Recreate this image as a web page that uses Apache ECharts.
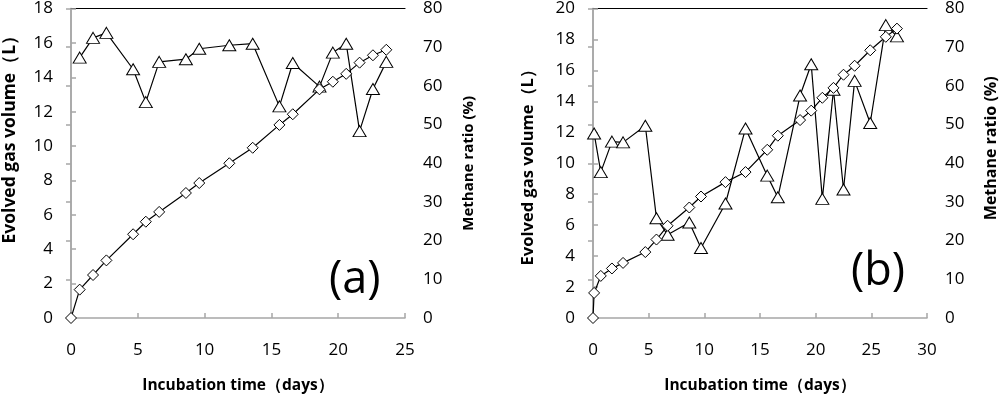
<!DOCTYPE html>
<html>
<head>
<meta charset="utf-8">
<script src="https://cdn.jsdelivr.net/npm/echarts@6/dist/echarts.min.js"></script>
<style>
html,body{margin:0;padding:0;background:#fff;}
#chart{width:1000px;height:399px;}
</style>
</head>
<body>
<div id="chart"></div>
<script>
// Panel (a)
const daysA = [0, 0.65, 1.65, 2.65, 4.65, 5.6, 6.6, 8.6, 9.6, 11.85, 13.6, 15.6, 16.6, 18.6, 19.6, 20.6, 21.6, 22.6, 23.6];
const gasA = [0, 1.65, 2.5, 3.35, 4.87, 5.6, 6.17, 7.27, 7.85, 9.0, 9.9, 11.23, 11.85, 13.3, 13.74, 14.2, 14.85, 15.28, 15.6];
const methaneA = [null, 67.3, 72.4, 73.7, 64.3, 55.8, 66.2, 66.9, 69.6, 70.5, 70.9, 54.7, 65.9, 59.8, 68.6, 70.9, 48.3, 59.2, 66.2];
// Panel (b)
const daysB = [0, 0.1, 0.7, 1.7, 2.7, 4.7, 5.7, 6.7, 8.65, 9.7, 11.9, 13.7, 15.65, 16.6, 18.6, 19.6, 20.6, 21.6, 22.5, 23.5, 24.9, 26.3, 27.3];
const gasB = [0, 1.62, 2.72, 3.2, 3.56, 4.26, 5.07, 5.96, 7.14, 7.85, 8.78, 9.43, 10.87, 11.78, 12.79, 13.4, 14.23, 14.87, 15.72, 16.3, 17.3, 18.17, 18.7];
const methaneB = [null, 47.7, 37.7, 45.6, 45.4, 49.7, 25.8, 21.5, 24.7, 18.1, 29.6, 49.0, 36.8, 31.2, 57.5, 65.6, 30.8, 59.0, 33.2, 61.3, 50.4, 75.7, 72.8];

const xTitle = 'Incubation time（days）';
const yLeftTitle = 'Evolved gas volume（L）';
const yRightTitle = 'Methane ratio (%)';

function pairs(xs, ys) {
  return xs.map((x, i) => [x, ys[i]]);
}

const FONT = '"Open Sans", sans-serif';
const AX = '#a6a6a6';
const tickFont = { color: '#000', fontSize: 17, fontFamily: FONT };
function nameFont(size, padding) {
  return { color: '#000', fontSize: size, fontWeight: 'bold', fontFamily: FONT, padding: padding || 0 };
}

function xAxes(gridIndex, max) {
  return [
    {
      type: 'value', gridIndex, min: 0, max, interval: 5,
      name: xTitle, nameLocation: 'middle', nameGap: 60, nameTextStyle: nameFont(15.5),
      axisLine: { show: true, lineStyle: { color: AX, width: 1.5 } },
      axisTick: { show: true, inside: true, length: 5, lineStyle: { color: AX, width: 1.5 } },
      axisLabel: Object.assign({ margin: 24 }, tickFont),
      splitLine: { show: false }
    },
    {
      type: 'value', gridIndex, min: 0, max, position: 'top',
      axisLine: { show: true, onZero: false, lineStyle: { color: '#000', width: 1.2 } },
      axisTick: { show: false }, axisLabel: { show: false }, splitLine: { show: false }
    }
  ];
}

function yAxes(gridIndex, leftMax, leftGap, rightGap, leftStyle, rightStyle) {
  return [
    {
      type: 'value', gridIndex, min: 0, max: leftMax, interval: 2, position: 'left',
      name: yLeftTitle, nameLocation: 'middle', nameGap: leftGap, nameRotate: 90, nameTextStyle: leftStyle,
      axisLine: { show: true, lineStyle: { color: AX, width: 1.5 } },
      axisTick: { show: true, inside: true, length: 5, lineStyle: { color: AX, width: 1.5 } },
      axisLabel: Object.assign({ margin: 18 }, tickFont),
      splitLine: { show: false }
    },
    {
      type: 'value', gridIndex, min: 0, max: 80, interval: 10, position: 'right',
      name: yRightTitle, nameLocation: 'middle', nameGap: rightGap, nameRotate: 90, nameTextStyle: rightStyle,
      axisLine: { show: true, lineStyle: { color: AX, width: 1.5 } },
      axisTick: { show: true, inside: true, length: 5, lineStyle: { color: AX, width: 1.5 } },
      axisLabel: Object.assign({ margin: 18 }, tickFont),
      splitLine: { show: false }
    }
  ];
}

const lineStyle = { color: '#000', width: 1.2 };
const itemStyle = { color: '#fff', borderColor: '#000', borderWidth: 1 };

function gasSeries(xi, yi, data) {
  return {
    type: 'line', xAxisIndex: xi, yAxisIndex: yi, data,
    symbol: 'diamond', symbolSize: [11, 11], showAllSymbol: true,
    lineStyle, itemStyle, animation: false, z: 3
  };
}
function methSeries(xi, yi, data) {
  return {
    type: 'line', xAxisIndex: xi, yAxisIndex: yi, data, connectNulls: false,
    symbol: 'triangle', symbolSize: [13, 11], showAllSymbol: true,
    lineStyle, itemStyle, animation: false, z: 2
  };
}

const chart = echarts.init(document.getElementById('chart'), null, { renderer: 'canvas' });
chart.setOption({
  backgroundColor: '#fff',
  animation: false,
  grid: [
    { left: 71, right: 595, top: 7, bottom: 79 },
    { left: 593, right: 73, top: 7, bottom: 79 }
  ],
  xAxis: [...xAxes(0, 25), ...xAxes(1, 30)],
  yAxis: [
    ...yAxes(0, 18, 52, 56, nameFont(17.5, [0, 0, 0, 56]), nameFont(15)),
    ...yAxes(1, 20, 56, 56, nameFont(16.5), nameFont(16, [0, 0, 0, 30]))
  ],
  series: [
    gasSeries(0, 0, pairs(daysA, gasA)),
    methSeries(0, 1, pairs(daysA, methaneA)),
    gasSeries(2, 2, pairs(daysB, gasB)),
    methSeries(2, 3, pairs(daysB, methaneB))
  ],
  graphic: [
    { type: 'text', left: 329, top: 258, style: { text: '(a)', font: '45px "Open Sans", sans-serif', fill: '#000' } },
    { type: 'text', left: 851, top: 250, style: { text: '(b)', font: '45px "Open Sans", sans-serif', fill: '#000' } }
  ]
});
</script>
</body>
</html>
